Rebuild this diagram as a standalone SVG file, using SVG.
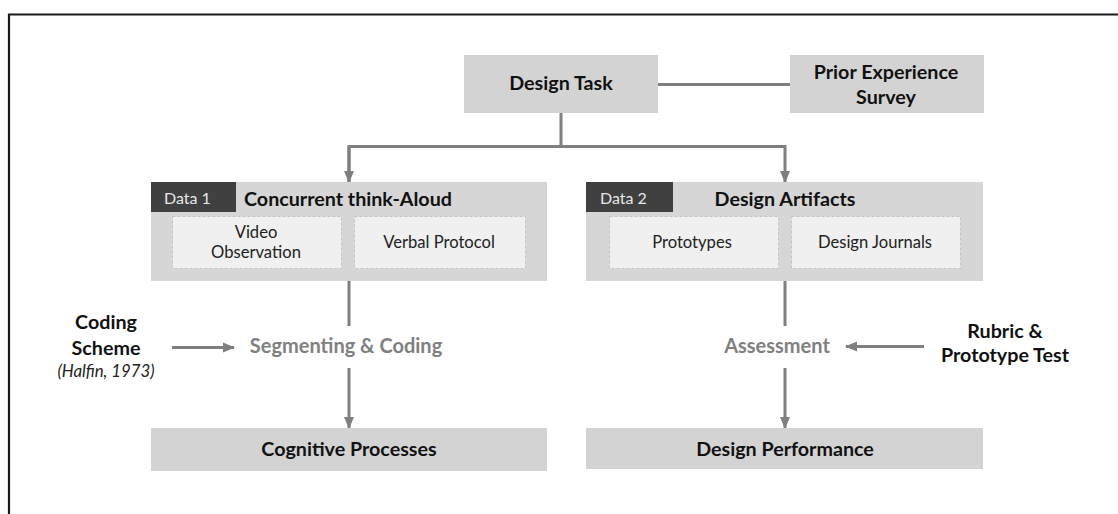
<svg xmlns="http://www.w3.org/2000/svg" width="1118" height="514" viewBox="0 0 1118 514">
<style>
.box{fill:#d3d3d3}
.panel{fill:#d6d6d6}
.tab{fill:#404040}
.sub{fill:#f0f0f0;stroke:#c4c4c4;stroke-width:1;stroke-dasharray:3 2}
.t{font-family:Lato,"Open Sans",sans-serif;fill:#111}
.b{font-weight:bold;font-size:19.7px}
.r{font-size:16.6px;fill:#222}
.g{font-weight:bold;font-size:20px;fill:#808080}
.tabt{font-size:16px;fill:#e8e8e8}
.it{font-style:italic;font-size:16.8px;fill:#222}
.c{stroke:#7f7f7f;stroke-width:3;fill:none}
</style>
<defs>
<marker id="ah" markerUnits="userSpaceOnUse" markerWidth="12" markerHeight="12" viewBox="0 0 12 12" refX="11" refY="6" orient="auto">
<path d="M0,1 L12,6 L0,11 Z" fill="#7f7f7f"/>
</marker>
</defs>
<rect width="1118" height="514" fill="#fff"/>
<path d="M9,514 V14.5 H1118" fill="none" stroke="#1a1a1a" stroke-width="2.2"/>

<g id="connectors">
<line class="c" x1="658" y1="84.5" x2="790" y2="84.5"/>
<path class="c" d="M561,113 V146"/>
<path class="c" d="M349,182 V146.5 H785 V182" marker-end="url(#ah)"/>
<path class="c" d="M349,146.5 V182" marker-end="url(#ah)"/>
<line class="c" x1="349" y1="281" x2="349" y2="326"/>
<line class="c" x1="349" y1="368" x2="349" y2="428" marker-end="url(#ah)"/>
<line class="c" x1="172" y1="347.5" x2="234" y2="347.5" marker-end="url(#ah)"/>
<line class="c" x1="785" y1="281" x2="785" y2="326"/>
<line class="c" x1="785" y1="368" x2="785" y2="428" marker-end="url(#ah)"/>
<line class="c" x1="924" y1="346.5" x2="846" y2="346.5" marker-end="url(#ah)"/>
</g>

<g id="design-task">
<rect class="box" x="464" y="55" width="194" height="58"/>
<text class="t b" x="561" y="90" text-anchor="middle">Design Task</text>
</g>

<g id="prior-experience">
<rect class="box" x="790" y="55" width="194" height="58"/>
<text class="t b" x="886" y="79" text-anchor="middle">Prior Experience</text>
<text class="t b" x="886" y="104" text-anchor="middle">Survey</text>
</g>

<g id="data1">
<rect class="panel" x="151" y="182" width="396" height="99"/>
<rect class="tab" x="151" y="182" width="85" height="30"/>
<text class="t tabt" x="164" y="204">Data 1</text>
<text class="t b" x="244" y="206">Concurrent think-Aloud</text>
<rect class="sub" x="172.5" y="216.5" width="169" height="52"/>
<text class="t r" x="256" y="238" text-anchor="middle">Video</text>
<text class="t r" x="256" y="258" text-anchor="middle">Observation</text>
<rect class="sub" x="354.5" y="216.5" width="171" height="52"/>
<text class="t r" x="439" y="248" text-anchor="middle">Verbal Protocol</text>
</g>

<g id="data2">
<rect class="panel" x="586" y="182" width="397" height="99"/>
<rect class="tab" x="586" y="182" width="87" height="30"/>
<text class="t tabt" x="600" y="204">Data 2</text>
<text class="t b" x="785" y="206" text-anchor="middle">Design Artifacts</text>
<rect class="sub" x="609.5" y="216.5" width="169" height="52"/>
<text class="t r" x="692" y="248" text-anchor="middle">Prototypes</text>
<rect class="sub" x="791.5" y="216.5" width="169" height="52"/>
<text class="t r" x="875" y="248" text-anchor="middle">Design Journals</text>
</g>

<g id="coding-scheme">
<text class="t b" x="106" y="329" text-anchor="middle">Coding</text>
<text class="t b" x="106" y="355" text-anchor="middle">Scheme</text>
<text class="t it" x="106" y="377" text-anchor="middle">(Halfin, 1973)</text>
</g>

<g id="segmenting">
<text class="t g" x="346" y="353" text-anchor="middle">Segmenting &amp; Coding</text>
</g>

<g id="assessment">
<text class="t g" x="777" y="353" text-anchor="middle">Assessment</text>
</g>

<g id="rubric">
<text class="t b" x="1005" y="338" text-anchor="middle">Rubric &amp;</text>
<text class="t b" x="1005" y="362" text-anchor="middle">Prototype Test</text>
</g>

<g id="cognitive-processes">
<rect class="box" x="151" y="428" width="396" height="43"/>
<text class="t b" x="349" y="456" text-anchor="middle">Cognitive Processes</text>
</g>

<g id="design-performance">
<rect class="box" x="586" y="428" width="397" height="41"/>
<text class="t b" x="785" y="456" text-anchor="middle">Design Performance</text>
</g>
</svg>
